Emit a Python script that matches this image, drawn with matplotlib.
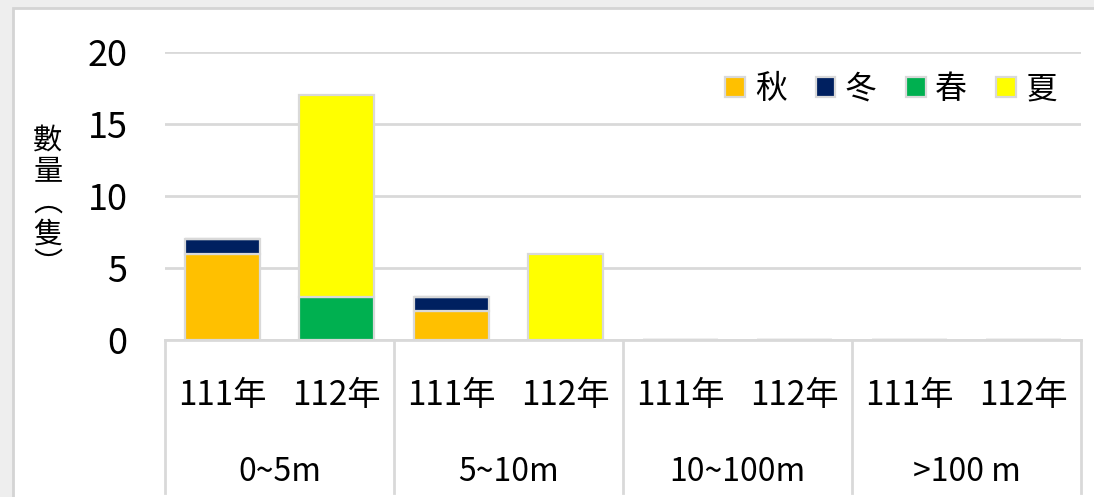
import matplotlib
matplotlib.use("Agg")
import matplotlib.pyplot as plt
import matplotlib.transforms as mtransforms
from matplotlib.patches import Rectangle
import numpy as np

plt.rcParams['font.family'] = ['Noto Sans CJK TC', 'DejaVu Sans']

groups = ["0~5m", "5~10m", "10~100m", ">100 m"]
years = ["111年", "112年"]
seasons = ["秋", "冬", "春", "夏"]
colors = ["#FFC000", "#002060", "#00B050", "#FFFF00"]
# values per bar (group x year), order: 0~5m/111, 0~5m/112, 5~10m/111, ...
autumn = [6, 0, 2, 0, 0, 0, 0, 0]
winter = [1, 0, 1, 0, 0, 0, 0, 0]
spring = [0, 3, 0, 0, 0, 0, 0, 0]
summer = [0, 14, 0, 6, 0, 0, 0, 0]
series = [autumn, winter, spring, summer]
yticks = [0, 5, 10, 15, 20]

W, H = 1094, 497
fig = plt.figure(figsize=(W / 100, H / 100), dpi=100)
fig.patch.set_facecolor("#eeeeee")
panel = Rectangle((13 / W, -0.02), 1.05, 1 - 8 / H + 0.02, transform=fig.transFigure,
                  facecolor="white", edgecolor="#d4d4d4", linewidth=2.0, zorder=-10)
fig.patches.append(panel)

ax = fig.add_axes([165 / W, (H - 340) / H, (1081 - 165) / W, (340 - 52) / H])
ax.set_zorder(5)
ax.set_facecolor("none")

x = np.arange(len(autumn))
bottom = np.zeros(len(x))
for vals, c, name in zip(series, colors, seasons):
    v = np.array(vals, dtype=float)
    ax.bar(x, v, bottom=bottom, width=0.655, color=c, edgecolor="#d9d9d9",
           linewidth=1.6, label=name, zorder=3)
    bottom += v

ax.set_xlim(-0.5, len(x) - 0.5)
ax.set_ylim(0, 20)
ax.set_yticks(yticks)
ax.set_yticklabels([str(t) for t in yticks], fontsize=26)
ax.tick_params(axis="y", length=0, pad=27, labelcolor="#000000")
ax.yaxis.grid(True, color="#d9d9d9", linewidth=2.0, zorder=0)
ax.set_axisbelow(True)
for s in ["top", "right", "left"]:
    ax.spines[s].set_visible(False)
ax.spines["bottom"].set_color("#d9d9d9")
ax.spines["bottom"].set_linewidth(2.0)

ax.set_xticks(x)
ax.set_xticklabels(years * len(groups), fontsize=24, va="center")
ax.tick_params(axis="x", length=0, pad=40)

trans = mtransforms.blended_transform_factory(ax.transData, ax.transAxes)
sep_bottom = -(493 - 340) / (340 - 52)
for gx in np.arange(-0.5, len(x), 2):
    ax.plot([gx, gx], [0, sep_bottom], transform=trans, color="#d9d9d9",
            linewidth=2.0, clip_on=False, zorder=2)
group_y = -(472 - 340) / (340 - 52)
for i, g in enumerate(groups):
    ax.text(2 * i + 0.5, group_y, g, transform=trans, ha="center", va="center",
            fontsize=23)

# vertical y-axis title (stacked characters, vertical-form parentheses)
fig.text(48 / W, 1 - 203 / H, "數\n量\n︵\n隻\n︶", ha="center", va="center",
         fontsize=21, linespacing=1.05)

leg = ax.legend(ncol=4, loc="upper right", bbox_to_anchor=(0.995, 0.993), frameon=False,
                fontsize=23, handlelength=0.62, handleheight=0.62, handletextpad=0.3,
                columnspacing=0.9, borderaxespad=0.2)

fig.savefig("out.png", dpi=100, facecolor=fig.get_facecolor())
